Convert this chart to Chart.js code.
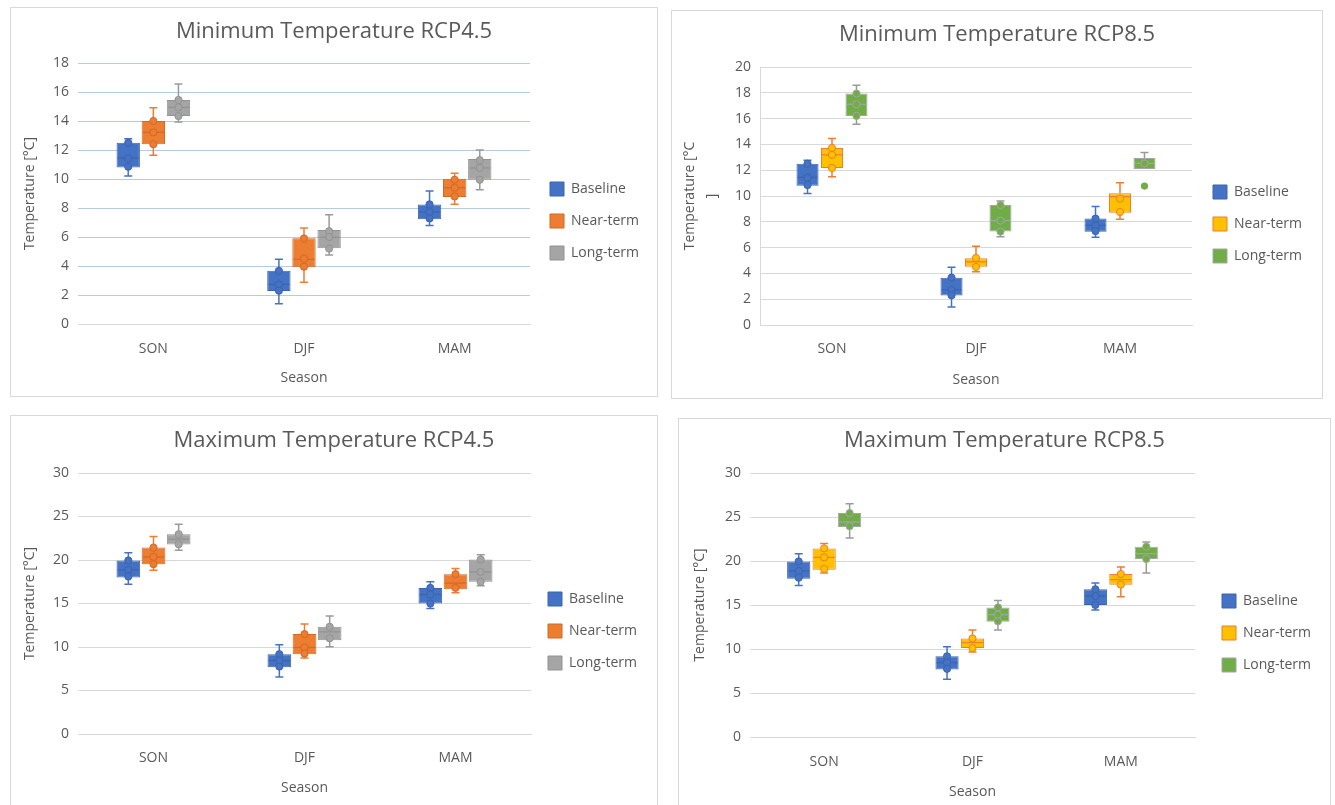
<!DOCTYPE html>
<html><head><meta charset="utf-8">
<script src="https://cdn.jsdelivr.net/npm/chart.js@4/dist/chart.umd.min.js"></script>
<style>
html,body{margin:0;padding:0;background:#fff;width:1335px;height:805px;overflow:hidden;}
.panel{position:absolute;border:1px solid #d9d9d9;background:#fff;box-sizing:border-box;}
.panel canvas{display:block;}
</style></head><body>
<div class="panel" style="left:10px;top:7px;width:648px;height:390px"><canvas id="c1" width="646" height="388"></canvas></div>
<div class="panel" style="left:671px;top:10px;width:652px;height:389px"><canvas id="c2" width="650" height="387"></canvas></div>
<div class="panel" style="left:10px;top:415px;width:648px;height:392px"><canvas id="c3" width="646" height="390"></canvas></div>
<div class="panel" style="left:678px;top:418px;width:653px;height:390px"><canvas id="c4" width="651" height="388"></canvas></div>
<script>
const seasons = ['SON', 'DJF', 'MAM'];
const seriesLabels = ['Baseline', 'Near-term', 'Long-term'];

// box stats per season: [min, Q1, median, Q3, max]
const tminBaseline = [[10.2,10.8,11.45,12.5,12.77],[1.4,2.28,2.73,3.67,4.47],[6.8,7.23,7.72,8.25,9.18]];
const tminBaselinePts = [[12.5,11.42,10.85],[3.67,2.72,2.3],[8.25,7.72,7.28]];
const tmin45Near = [[11.63,12.39,13.22,14.0,14.92],[2.88,3.91,4.46,5.91,6.62],[8.26,8.76,9.4,10.02,10.39]];
const tmin45NearPts = [[14.0,13.22,12.4],[5.9,4.5,3.95],[9.95,9.4,8.8]];
const tmin45Long = [[13.93,14.34,14.94,15.45,16.55],[4.76,5.22,5.98,6.48,7.54],[9.26,9.95,10.76,11.38,12.0]];
const tmin45LongPts = [[15.45,14.94,14.34],[6.4,6.0,5.2],[11.3,10.76,9.95]];
const tmin85Near = [[11.49,12.17,13.19,13.73,14.46],[4.12,4.51,4.9,5.18,6.11],[8.2,8.71,9.95,10.21,11.03]];
const tmin85NearPts = [[13.73,13.19,12.17],[5.2,4.5],[9.8,8.76]];
const tmin85Long = [[15.57,16.21,17.11,17.94,18.58],[6.85,7.24,8.09,9.3,9.61],[12.09,12.09,12.53,12.94,13.38]];
const tmin85LongPts = [[17.94,17.11,16.21],[9.3,8.09,7.24],[12.53]];
const tmin85LongOut = [[],[],[10.77]];

const tmaxBaseline = [[17.22,17.99,18.87,19.95,20.83],[6.55,7.67,8.45,9.17,10.26],[14.42,15.0,16.02,16.79,17.51]];
const tmaxBaselinePts = [[19.95,18.87,18.1],[9.17,8.45,7.75],[16.79,16.02,15.0]];
const tmax45Near = [[18.83,19.52,20.36,21.43,22.7],[8.73,9.18,9.95,11.48,12.63],[16.23,16.65,17.34,18.37,19.02]];
const tmax45NearPts = [[21.43,20.36,19.52],[11.48,9.95,9.25],[18.37,16.8]];
const tmax45Long = [[21.12,21.78,22.39,22.96,24.11],[10.02,10.79,11.74,12.32,13.55],[17.03,17.49,18.63,20.06,20.59]];
const tmax45LongPts = [[22.96,21.8],[12.32,11.0],[20.06,18.63,17.49]];
const tmax85Near = [[18.64,19.01,20.41,21.43,22.0],[9.66,10.11,10.72,11.2,12.16],[15.94,17.31,17.88,18.52,19.32]];
const tmax85NearPts = [[21.43,20.41,19.1],[11.2,10.11],[18.52,17.31]];
const tmax85Long = [[22.61,23.86,24.43,25.45,26.51],[12.16,13.1,13.9,14.73,15.52],[18.64,20.23,20.83,21.63,22.16]];
const tmax85LongPts = [[25.45,23.95],[14.73,13.9,13.15],[21.63,20.23]];

const FONT = '"Open Sans", "DejaVu Sans", sans-serif';
const TXT = '#595959';
const stBlue = {fill:'#4472C4', border:'#3B64AD', whisker:'#4472C4'};
const stOrange = {fill:'#ED7D31', border:'#D06A27', whisker:'#ED7D31'};
const stGray = {fill:'#A5A5A5', border:'#929292', whisker:'#9A9A9A'};
const stYellow = {fill:'#FFC000', border:'#ED7D31', whisker:'#ED7D31'};
const stGreen = {fill:'#70AD47', border:'#A5A5A5', whisker:'#9A9A9A'};

const panels = [
  {id:'c1', title:'Minimum Temperature RCP4.5', yMax:18, yStep:2, grid:'#b8c9e6', yBorder:false,
   ytitle:'Temperature [°C]', W:646, H:388, L:67, R:519, T:55, B:316, titleY:24, ytX:19, xTickY:333, xTitleY:370, legY:213, legX:539, cp:0.5, bp:0.93,
   series:[{s:tminBaseline,p:tminBaselinePts,st:stBlue},{s:tmin45Near,p:tmin45NearPts,st:stOrange},{s:tmin45Long,p:tmin45LongPts,st:stGray}]},
  {id:'c2', title:'Minimum Temperature RCP8.5', yMax:20, yStep:2, grid:'#d9d9d9', yBorder:true,
   ytitle:['Temperature [°C', ']'], W:650, H:387, L:88, R:520, T:56, B:314, titleY:24, ytX:18, xTickY:330, xTitleY:369, legY:213, legX:541, cp:0.51, bp:0.9,
   series:[{s:tminBaseline,p:tminBaselinePts,st:stBlue},{s:tmin85Near,p:tmin85NearPts,st:stYellow},{s:tmin85Long,p:tmin85LongPts,o:tmin85LongOut,st:stGreen}]},
  {id:'c3', title:'Maximum Temperature RCP4.5', yMax:30, yStep:5, grid:'#d9d9d9', yBorder:false,
   ytitle:'Temperature [°C]', W:646, H:390, L:67, R:520, T:57, B:318, titleY:25, ytX:19, xTickY:334, xTitleY:372, legY:215, legX:537, cp:0.5, bp:0.94,
   series:[{s:tmaxBaseline,p:tmaxBaselinePts,st:stBlue},{s:tmax45Near,p:tmax45NearPts,st:stOrange},{s:tmax45Long,p:tmax45LongPts,st:stGray}]},
  {id:'c4', title:'Maximum Temperature RCP8.5', yMax:30, yStep:5, grid:'#d9d9d9', yBorder:false,
   ytitle:'Temperature [°C]', W:651, H:388, L:71, R:516, T:54, B:318, titleY:22, ytX:21, xTickY:335, xTitleY:373, legY:214, legX:543, cp:0.515, bp:0.91,
   series:[{s:tmaxBaseline,p:tmaxBaselinePts,st:stBlue},{s:tmax85Near,p:tmax85NearPts,st:stYellow},{s:tmax85Long,p:tmax85LongPts,st:stGreen}]}
];

const boxPlugin = {
  id: 'boxWhisker',
  afterDatasetsDraw(chart) {
    const ctx = chart.ctx, y = chart.scales.y;
    const py = v => y.getPixelForValue(v);
    chart.data.datasets.forEach((ds, i) => {
      const meta = chart.getDatasetMeta(i);
      meta.data.forEach((bar, j) => {
        const s = ds.stats[j];
        const x = bar.x, w = bar.width;
        ctx.save();
        ctx.lineWidth = 1.5;
        ctx.strokeStyle = ds.whisker;
        ctx.beginPath();
        if (s[4] > s[3]) {
          ctx.moveTo(x, py(s[3])); ctx.lineTo(x, py(s[4]));
          ctx.moveTo(x - 4, py(s[4])); ctx.lineTo(x + 4, py(s[4]));
        }
        if (s[0] < s[1]) {
          ctx.moveTo(x, py(s[1])); ctx.lineTo(x, py(s[0]));
          ctx.moveTo(x - 4, py(s[0])); ctx.lineTo(x + 4, py(s[0]));
        }
        ctx.stroke();
        ctx.lineWidth = 1.2;
        ctx.strokeStyle = ds.borderColor;
        ctx.beginPath();
        ctx.moveTo(x - w / 2 + 1, py(s[2])); ctx.lineTo(x + w / 2 - 1, py(s[2]));
        ctx.stroke();
        ctx.lineWidth = 1;
        (ds.pts[j] || []).forEach(v => {
          ctx.beginPath(); ctx.arc(x, py(v), 3.6, 0, Math.PI * 2);
          ctx.fillStyle = ds.backgroundColor; ctx.fill(); ctx.stroke();
        });
        (ds.out[j] || []).forEach(v => {
          ctx.beginPath(); ctx.arc(x, py(v), 3.6, 0, Math.PI * 2);
          ctx.fillStyle = ds.backgroundColor; ctx.fill();
        });
        ctx.restore();
      });
    });
  }
};

function legendFix(p) {
  return {
    id: 'legendFix',
    beforeInit(chart) {
      const lg = chart.legend;
      const f = lg.fit;
      lg.fit = function () { f.call(this); this.width = p.W - p.R; };
    },
    afterLayout(chart) {
      const lg = chart.legend;
      const h = lg.bottom - lg.top, w = lg.right - lg.left;
      lg.top = p.legY - h / 2; lg.bottom = lg.top + h;
      lg.left = p.legX - 18; lg.right = lg.left + w;
    }
  };
}

panels.forEach(p => {
  const tLH = 1.6 * 14;
  const TS = 22, TLH = TS * 1.2;
  new Chart(document.getElementById(p.id), {
    type: 'bar',
    data: {
      labels: seasons,
      datasets: p.series.map((sr, k) => ({
        label: seriesLabels[k],
        data: sr.s.map(v => [v[1], v[3]]),
        stats: sr.s, pts: sr.p, out: sr.o || [[], [], []],
        backgroundColor: sr.st.fill, borderColor: sr.st.border, whisker: sr.st.whisker,
        borderWidth: 1, borderSkipped: false,
        barPercentage: p.bp, categoryPercentage: p.cp
      }))
    },
    options: {
      responsive: false, animation: false,
      layout: {padding: {left: 0, right: 0, top: 0, bottom: 0}},
      plugins: {
        title: {display: true, text: p.title, color: TXT, font: {family: FONT, size: TS, weight: 'normal'},
                padding: {top: p.titleY - TLH / 2, bottom: p.T - p.titleY - TLH / 2}},
        legend: {position: 'right', labels: {boxWidth: 14, boxHeight: 14, padding: 18, color: TXT, font: {family: FONT, size: 14}}},
        tooltip: {enabled: false}
      },
      scales: {
        x: {
          grid: {display: false},
          border: {display: true, color: '#d9d9d9'},
          ticks: {color: TXT, font: {family: FONT, size: 14}, padding: p.xTickY - p.B - 8.4},
          title: {display: true, text: 'Season', color: TXT, font: {family: FONT, size: 14},
                  padding: {top: 0, bottom: p.H - p.xTitleY - 8.4}},
          afterFit: s => { s.height = p.H - p.B; }
        },
        y: {
          min: 0, max: p.yMax,
          ticks: {stepSize: p.yStep, color: TXT, font: {family: FONT, size: 14}, padding: 9},
          grid: {color: c => (c.tick && c.tick.value === 0) ? '#d9d9d9' : p.grid, drawTicks: false, lineWidth: 1},
          border: {display: p.yBorder, color: '#d9d9d9'},
          title: {display: true, text: p.ytitle, color: TXT, font: {family: FONT, size: 14, lineHeight: 1.6},
                  padding: {top: p.ytX - tLH / 2, bottom: 0}},
          afterFit: s => { s.width = p.L; }
        }
      }
    },
    plugins: [legendFix(p), boxPlugin]
  });
});
</script>
</body></html>
